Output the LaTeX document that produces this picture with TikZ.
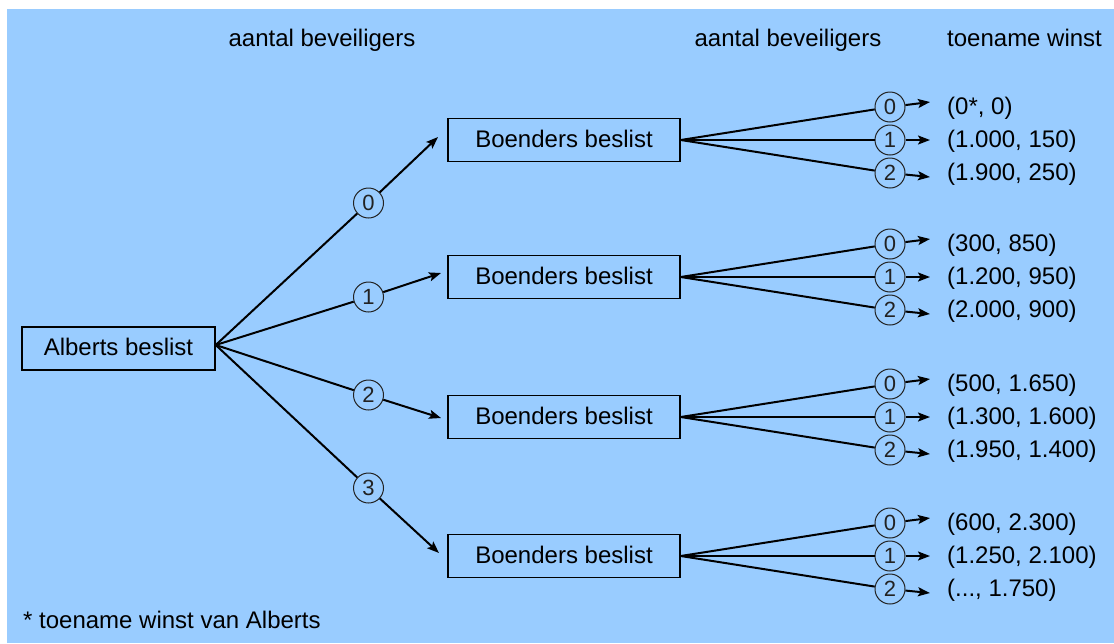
\documentclass[tikz,border=0pt]{standalone}
\usepackage{fontspec}
\setmainfont{Liberation Sans}
\usetikzlibrary{arrows.meta}
\definecolor{bg}{HTML}{99CCFF}
\definecolor{ink}{HTML}{222222}
\begin{document}
\begin{tikzpicture}[x=1pt,y=-1pt,
  every node/.style={font=\fontsize{24}{28}\selectfont, text=black},
  box/.style={draw=black, line width=1.5pt, minimum height=43pt, inner sep=0pt, text height=17pt, text depth=3pt},
  num/.style={circle, draw=ink, line width=1pt, minimum size=30pt, inner sep=0pt, font=\fontsize{22}{26}\selectfont, text=ink},
  conn/.style={line width=2pt, draw=black},
  arr/.style={conn, -{Stealth[length=12pt,width=9pt,inset=2.5pt]}},
  val/.style={anchor=base west, inner sep=0pt},
  head/.style={anchor=base, inner sep=0pt}]
\useasboundingbox[fill=white] (0,0) rectangle (1114,643);
\fill[bg] (7,9) rectangle (1114,643);

% headers
\node[head] (h1) at (322,46) {aantal beveiligers};
\node[head] (h2) at (788,46) {aantal beveiligers};
\node[val]  (h3) at (947,46) {toename winst};

% Alberts
\node[box, minimum width=193pt] (A) at (118.5,348.5) {Alberts beslist};

% Boenders boxes
\node[box, minimum width=232pt] (B1) at (564,140) {Boenders beslist};
\node[box, minimum width=232pt] (B2) at (564,277) {Boenders beslist};
\node[box, minimum width=232pt] (B3) at (564,417) {Boenders beslist};
\node[box, minimum width=232pt] (B4) at (564,556) {Boenders beslist};

% Alberts choices
\node[num] (a0) at (368.5,203) {0};
\node[num] (a1) at (368.5,297) {1};
\node[num] (a2) at (368.5,395) {2};
\node[num] (a3) at (368.5,488) {3};
\coordinate (ta0) at (438,137);
\coordinate (ta1) at (441,273);
\coordinate (ta2) at (441,418);
\coordinate (ta3) at (439,553);
\foreach \i in {0,1,2,3}{
  \draw[conn] ([yshift=3.5pt]A.east) -- (a\i);
  \draw[arr] (a\i) -- (ta\i);
}

% Boenders choices
\foreach \g/\Y in {1/140,2/277,3/417,4/556}{
  \node[num] (b\g n0) at (890,\Y-33) {0};
  \node[num] (b\g n1) at (890,\Y) {1};
  \node[num] (b\g n2) at (890,\Y+33) {2};
  \coordinate (t\g n0) at (930,\Y-38);
  \coordinate (t\g n1) at (930,\Y);
  \coordinate (t\g n2) at (930,\Y+37);
  \foreach \j in {0,1,2}{
    \draw[conn] (B\g.east) -- (b\g n\j);
    \draw[arr] (b\g n\j) -- (t\g n\j);
  }
}

% values
\node[val] (v10) at (947,114.5) {(0*, 0)};
\node[val] (v11) at (947,147.5) {(1.000, 150)};
\node[val] (v12) at (947,180.5) {(1.900, 250)};
\node[val] (v20) at (947,251.5) {(300, 850)};
\node[val] (v21) at (947,284.5) {(1.200, 950)};
\node[val] (v22) at (947,317.5) {(2.000, 900)};
\node[val] (v30) at (947,391.5) {(500, 1.650)};
\node[val] (v31) at (947,424.5) {(1.300, 1.600)};
\node[val] (v32) at (947,457.5) {(1.950, 1.400)};
\node[val] (v40) at (947,530.5) {(600, 2.300)};
\node[val] (v41) at (947,563.5) {(1.250, 2.100)};
\node[val] (v42) at (947,596.5) {(..., 1.750)};

% footnote
\node[val] (fn) at (23,628) {* toename winst van Alberts};
\end{tikzpicture}
\end{document}
